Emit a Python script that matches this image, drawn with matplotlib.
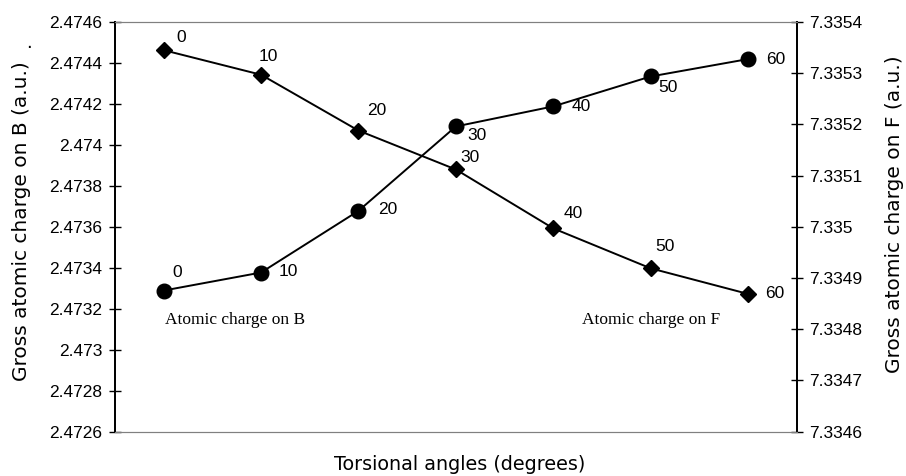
#!/usr/bin/env python3

import matplotlib

matplotlib.use("Agg")
import matplotlib.pyplot as plt
import numpy as np
from matplotlib.ticker import FixedLocator, FuncFormatter

angles = [0, 10, 20, 30, 40, 50, 60]
charge_b = [2.473289, 2.473377, 2.473678, 2.474090, 2.474188, 2.474334, 2.474419]
charge_f = [7.335345, 7.335297, 7.335188, 7.335112, 7.334997, 7.334919, 7.334869]

left_ticks = np.round(np.arange(2.4726, 2.47461, 0.0002), 4)
right_ticks = np.round(np.arange(7.3346, 7.33541, 0.0001), 4)

# label offsets in pixels (dx, dy screen-down) for the point annotations
b_offsets = [(14, -18), (27, -1), (29, -1), (21, 9), (28, 0), (17, 11), (28, 0)]
f_offsets = [(18, -13), (7, -18), (18, -20), (14, -12), (20, -15), (14, -22), (27, 0)]

TICK_FONT = "Liberation Sans"
LABEL_FONT = "DejaVu Sans"


def general_fmt(v, _pos=None) -> str:
    s = f"{v:.4f}".rstrip("0").rstrip(".")
    return s


def annotate_points(ax, x, y, labels, offsets) -> None:
    for xi, yi, lab, (dx, dy) in zip(x, y, labels, offsets):
        ax.annotate(
            str(lab),
            xy=(xi, yi),
            xytext=(dx * 0.72, -dy * 0.72),
            textcoords="offset points",
            ha="center",
            va="center",
            fontsize=12.5,
            family=TICK_FONT,
        )


def main() -> None:
    fig = plt.figure(figsize=(9.06, 4.76), dpi=100)
    ax = fig.add_axes([0.1269, 0.0931, 0.7525, 0.8607])
    ax2 = ax.twinx()

    x = np.arange(len(angles))

    ax.plot(x, charge_b, color="black", linewidth=1.4, marker="o", markersize=10.5, zorder=3)
    ax2.plot(x, charge_f, color="black", linewidth=1.4, marker="D", markersize=8.5, zorder=3)

    annotate_points(ax, x, charge_b, angles, b_offsets)
    annotate_points(ax2, x, charge_f, angles, f_offsets)

    ax.set_xlim(-0.5, len(angles) - 0.5)
    ax.set_ylim(left_ticks[0], left_ticks[-1])
    ax2.set_ylim(right_ticks[0], right_ticks[-1])

    ax.yaxis.set_major_locator(FixedLocator(left_ticks))
    ax.yaxis.set_major_formatter(FuncFormatter(general_fmt))
    ax2.yaxis.set_major_locator(FixedLocator(right_ticks))
    ax2.yaxis.set_major_formatter(FuncFormatter(general_fmt))
    ax.set_xticks([])

    for a in (ax, ax2):
        a.tick_params(axis="y", direction="inout", length=8, width=1, pad=5, labelsize=12.5)
        for lab in a.get_yticklabels():
            lab.set_family(TICK_FONT)
        a.spines["top"].set_color("#808080")
        a.spines["bottom"].set_color("#808080")
        a.spines["left"].set_linewidth(1.3)
        a.spines["right"].set_linewidth(1.3)

    ax.set_ylabel("Gross atomic charge on B (a.u.)", fontsize=14.5, family=LABEL_FONT)
    ax.yaxis.set_label_coords(-0.123, 0.515)
    ax2.set_ylabel("Gross atomic charge on F (a.u.)", fontsize=14.5, family=LABEL_FONT)
    ax2.yaxis.set_label_coords(1.129, 0.53)
    ax.set_xlabel("Torsional angles (degrees)", fontsize=13.8, family=LABEL_FONT)
    ax.xaxis.set_label_coords(0.506, -0.058)

    fig.text(165 / 906, 1 - 320 / 476, "Atomic charge on B", fontsize=12.5,
             family="Liberation Serif", ha="left", va="center")
    fig.text(582 / 906, 1 - 320 / 476, "Atomic charge on F", fontsize=12.5,
             family="Liberation Serif", ha="left", va="center")
    fig.text(29 / 906, 1 - 43 / 476, ".", fontsize=13, ha="center", va="center")

    fig.savefig("out.png", dpi=100)
    plt.close(fig)


if __name__ == "__main__":
    main()
